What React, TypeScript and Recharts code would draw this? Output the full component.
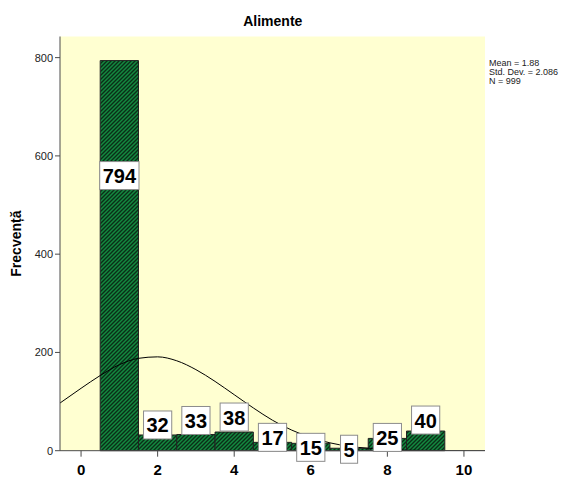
import React from "react";
import {
  ComposedChart,
  Line,
  XAxis,
  YAxis,
  ReferenceArea,
  ReferenceDot,
  CartesianGrid,
  Customized,
} from "recharts";

const bins = [1, 2, 3, 4, 5, 6, 7, 8, 9];
const counts = [794, 32, 33, 38, 17, 15, 5, 25, 40];

const curveX = [
  -0.55, 0, 0.5, 1, 1.5, 2, 2.5, 3, 3.5, 4, 4.5, 5, 5.5, 6, 6.5, 7, 7.5, 8, 8.5,
  9, 9.5, 10, 10.55,
];
const curveY = [
  97, 127, 153, 175, 188, 191, 183, 165, 141, 114, 87, 62, 42, 27, 16, 9, 5, 3,
  1, 0.6, 0.3, 0.1, 0,
];

const xTicks = [0, 2, 4, 6, 8, 10];
const yTicks = [0, 200, 400, 600, 800];
const stats = ["Mean = 1.88", "Std. Dev. = 2.086", "N = 999"];

// where each count box sits, px from the bar top (positive = lower)
const labelShift = [115, -10, -14, -15, -5, 4, 1, -1, -11];

const curveData = curveX.map((x, i) => ({ x, y: curveY[i] }));

const W = 566;
const H = 471;
const FONT = "'Liberation Sans', Arial, sans-serif";
const FRAME = "#4a4a4a";

function CountLabel(props: any) {
  const { viewBox, text, shift } = props;
  if (!viewBox) return null;
  const cx = viewBox.x + viewBox.width / 2;
  const cy = viewBox.y + viewBox.height / 2 + shift;
  const w = text.length * 11.1 + 6;
  return (
    <g>
      <rect
        x={cx - w / 2}
        y={cy - 14}
        width={w}
        height={28}
        fill="#ffffff"
        stroke="#8c8c8c"
      />
      <text
        x={cx}
        y={cy + 7.5}
        textAnchor="middle"
        fontFamily={FONT}
        fontWeight="bold"
        fontSize={20}
        fill="#000"
      >
        {text}
      </text>
    </g>
  );
}

function Extras() {
  return (
    <g>
      <defs>
        <pattern
          id="hatch"
          patternUnits="userSpaceOnUse"
          width={4}
          height={4}
        >
          <rect width={4} height={4} fill="#138a40" />
          <path
            d="M-1,1 l2,-2 M0,4 l4,-4 M3,5 l2,-2"
            stroke="#0a2e17"
            strokeWidth={1.4}
          />
        </pattern>
      </defs>
      <text
        x={264.8}
        y={18}
        textAnchor="middle"
        fontFamily={FONT}
        fontWeight="bold"
        fontSize={14}
        fill="#000"
      >
        Alimente
      </text>
      <text
        transform="translate(13,235.6) rotate(-90)"
        textAnchor="middle"
        fontFamily={FONT}
        fontWeight="bold"
        fontSize={14}
        fill="#000"
      >
        Frecvență
      </text>
      {stats.map((s, i) => (
        <text
          key={s}
          x={481}
          y={58 + i * 9}
          fontFamily={FONT}
          fontSize={9}
          fill="#222"
        >
          {s}
        </text>
      ))}
    </g>
  );
}

export default function App() {
  return (
    <ComposedChart
      width={W}
      height={H}
      data={curveData}
      margin={{ top: 28.5, right: 89, bottom: 0, left: 12 }}
    >
      <CartesianGrid horizontal={false} vertical={false} fill="#ffffd1" />
      <XAxis
        dataKey="x"
        type="number"
        domain={[-0.55, 10.55]}
        ticks={xTicks}
        allowDataOverflow
        height={28.3}
        tickSize={6}
        tickMargin={8}
        stroke={FRAME}
        tick={{ fontFamily: FONT, fontWeight: "bold", fontSize: 15, fill: "#000" }}
      />
      <XAxis
        xAxisId="top"
        orientation="top"
        type="number"
        domain={[-0.55, 10.55]}
        height={0}
        tick={false}
        tickLine={false}
        stroke={FRAME}
      />
      <YAxis
        type="number"
        domain={[0, 843]}
        ticks={yTicks}
        allowDataOverflow
        width={40}
        tickSize={5}
        stroke={FRAME}
        tick={{ fontFamily: FONT, fontSize: 11, fill: "#222" }}
      />
      <YAxis
        yAxisId="right"
        orientation="right"
        type="number"
        domain={[0, 843]}
        width={0}
        tick={false}
        tickLine={false}
        stroke={FRAME}
      />
      <Customized component={Extras} />
      {bins.map((b, i) => (
        <ReferenceArea
          key={b}
          x1={b - 0.5}
          x2={b + 0.5}
          y1={0}
          y2={counts[i]}
          fill="url(#hatch)"
          fillOpacity={1}
          stroke="#222"
          strokeWidth={1}
        />
      ))}
      <Line
        dataKey="y"
        type="monotone"
        stroke="#000"
        strokeWidth={1}
        dot={false}
        activeDot={false}
        isAnimationActive={false}
      />
      {bins.map((b, i) => (
        <ReferenceDot
          key={"l" + b}
          x={b}
          y={counts[i]}
          r={1}
          fill="none"
          stroke="none"
          label={(p: any) => (
            <CountLabel {...p} text={String(counts[i])} shift={labelShift[i]} />
          )}
        />
      ))}
    </ComposedChart>
  );
}
